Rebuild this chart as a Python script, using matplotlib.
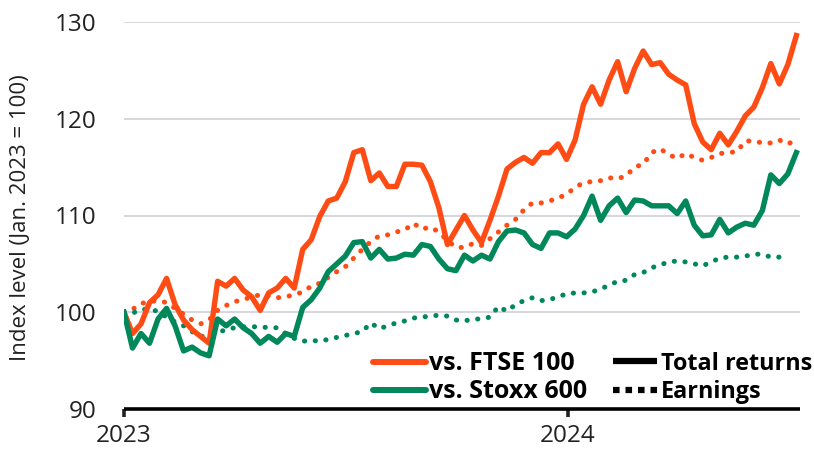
import matplotlib
matplotlib.use("Agg")
import matplotlib.pyplot as plt
import matplotlib.dates as mdates
from matplotlib.lines import Line2D
import pandas as pd

# weekly observations, Jan. 2023 = 100
weeks = pd.date_range("2023-01-01", periods=80, freq="7D")

ftse_total = [
    100.0, 97.8, 98.8, 101.0, 101.8, 103.5, 100.8, 99.2, 98.2, 97.5,
    96.8, 103.2, 102.7, 103.5, 102.3, 101.6, 100.2, 102.0, 102.5, 103.5,
    102.5, 106.5, 107.5, 109.9, 111.5, 111.8, 113.5, 116.5, 116.8, 113.6,
    114.4, 113.0, 113.0, 115.3, 115.3, 115.2, 113.5, 110.8, 107.0, 108.5,
    110.0, 108.5, 107.2, 109.5, 112.0, 114.8, 115.5, 116.0, 115.4, 116.5,
    116.5, 117.4, 115.8, 117.8, 121.5, 123.3, 121.5, 124.0, 125.9, 122.8,
    125.2, 127.0, 125.6, 125.8, 124.6, 124.0, 123.5, 119.5, 117.6, 116.8,
    118.5, 117.3, 118.7, 120.3, 121.2, 123.2, 125.7, 123.6, 125.6, 128.6,
]
stoxx_total = [
    100.0, 96.3, 97.8, 96.8, 99.3, 100.4, 98.6, 96.0, 96.4, 95.8,
    95.5, 99.3, 98.6, 99.3, 98.4, 97.8, 96.8, 97.5, 96.9, 97.8,
    97.5, 100.5, 101.3, 102.5, 104.2, 105.0, 105.8, 107.2, 107.3, 105.6,
    106.5, 105.5, 105.6, 106.0, 105.9, 107.0, 106.8, 105.5, 104.5, 104.3,
    105.9, 105.3, 105.9, 105.5, 107.3, 108.4, 108.5, 108.2, 107.0, 106.6,
    108.2, 108.2, 107.8, 108.6, 110.0, 112.0, 109.5, 111.0, 111.8, 110.3,
    111.6, 111.5, 111.0, 111.0, 111.0, 110.2, 111.5, 109.0, 107.9, 108.0,
    109.6, 108.2, 108.8, 109.2, 109.0, 110.5, 114.2, 113.3, 114.3, 116.5,
]
ftse_earn = [
    100.0, 100.3, 100.9, 101.1, 101.2, 101.0, 100.4, 99.8, 99.2, 98.8,
    99.2, 100.2, 100.7, 101.1, 101.3, 101.6, 101.8, 101.7, 101.5, 101.6,
    101.8, 102.1, 102.7, 103.0, 103.6, 104.2, 104.7, 105.6, 106.5, 107.3,
    107.9, 108.0, 108.3, 108.5, 109.2, 108.6, 108.8, 108.3, 107.4, 106.7,
    106.7, 107.1, 106.9, 107.6, 108.3, 109.0, 109.6, 110.6, 111.3, 111.3,
    111.5, 111.8, 112.2, 112.9, 113.4, 113.5, 113.6, 113.9, 113.8, 114.1,
    115.0, 115.3, 116.5, 116.9, 116.3, 115.9, 116.4, 116.0, 115.7, 116.0,
    116.4, 116.5, 116.6, 117.7, 117.7, 117.5, 117.5, 117.8, 117.4, 117.8,
]
stoxx_earn = [
    100.0, 99.9, 100.3, 100.3, 100.1, 99.5, 99.0, 98.6, 98.0, 97.5,
    97.6, 97.9, 98.2, 98.4, 98.5, 98.5, 98.5, 98.4, 98.4, 97.8,
    97.3, 97.0, 97.1, 97.0, 97.2, 97.4, 97.6, 97.8, 98.0, 98.9,
    98.3, 98.6, 98.9, 99.1, 99.4, 99.5, 99.6, 99.7, 99.6, 99.2,
    99.1, 99.3, 99.3, 99.5, 100.6, 100.1, 100.8, 101.2, 101.5, 101.2,
    101.3, 101.6, 101.9, 102.0, 102.0, 102.1, 102.4, 102.8, 103.2, 103.3,
    103.9, 104.1, 104.6, 104.9, 105.2, 105.3, 105.2, 105.0, 104.8, 105.2,
    105.6, 105.7, 105.7, 105.8, 106.0, 106.0, 105.7, 105.7, 105.7,
]

ORANGE = "#ff4c15"
GREEN = "#00875a"
FONT = "Open Sans"
INK = "#222222"

plt.rcParams["font.family"] = [FONT, "DejaVu Sans"]

fig = plt.figure(figsize=(8.14, 4.5), dpi=100)
ax = fig.add_axes([124 / 814, 41 / 450, 676 / 814, 387 / 450])

dots = dict(linestyle=(0, (0.05, 2.1)), dash_capstyle="round", lw=3.6)
ax.plot(weeks[:len(ftse_earn)], ftse_earn, color=ORANGE, **dots)
ax.plot(weeks[:len(stoxx_earn)], stoxx_earn, color=GREEN, **dots)
ax.plot(weeks, ftse_total, color=ORANGE, lw=3.9, solid_joinstyle="round")
ax.plot(weeks, stoxx_total, color=GREEN, lw=3.9, solid_joinstyle="round")

ax.set_ylim(90, 130)
ax.set_yticks([90, 100, 110, 120, 130])
ax.set_xlim(pd.Timestamp("2023-01-01"), weeks[-1] + pd.Timedelta(days=3))
ax.xaxis.set_major_locator(mdates.YearLocator())
ax.xaxis.set_major_formatter(mdates.DateFormatter("%Y"))

for v in [100, 110, 120, 130]:
    ax.axhline(v, color="#d3d3db", lw=1.3, zorder=0)

for s in ["top", "right", "left"]:
    ax.spines[s].set_visible(False)
ax.spines["bottom"].set_linewidth(2.6)
ax.spines["bottom"].set_capstyle("butt")
ax.tick_params(axis="y", length=0, labelsize=17.5, pad=20, colors=INK)
ax.tick_params(axis="x", length=6, width=2.6, labelsize=17.5, pad=5,
               colors=INK)
ax.set_ylabel("Index level (Jan. 2023 = 100)", fontsize=16, color=INK)
ax.yaxis.set_label_coords(-0.137, 0.495)

# legend: index colours, then line styles
h1 = [Line2D([], [], color=ORANGE, lw=4.3, solid_capstyle="round"),
      Line2D([], [], color=GREEN, lw=4.3, solid_capstyle="round")]
leg1 = ax.legend(h1, ["vs. FTSE 100", "vs. Stoxx 600"], frameon=False,
                 loc="center left", bbox_to_anchor=(373 / 814, 1 - 378 / 450),
                 bbox_transform=fig.transFigure, borderpad=0,
                 borderaxespad=0, handlelength=2.1, handletextpad=0.15,
                 labelspacing=0.12,
                 prop=dict(family=FONT, weight="bold", size=18))
ax.add_artist(leg1)
h2 = [Line2D([], [], color="black", lw=4.5, solid_capstyle="butt"),
      Line2D([], [], color="black", lw=4.5, linestyle=(0, (1.05, 0.95)),
             dash_capstyle="butt")]
ax.legend(h2, ["Total returns", "Earnings"], frameon=False,
          loc="center left", bbox_to_anchor=(613 / 814, 1 - 378 / 450),
          bbox_transform=fig.transFigure, borderpad=0, borderaxespad=0,
          handlelength=1.87, handletextpad=0.2, labelspacing=0.2,
          prop=dict(family=FONT, weight="bold", size=16.8))

fig.savefig("out.png", dpi=100)
